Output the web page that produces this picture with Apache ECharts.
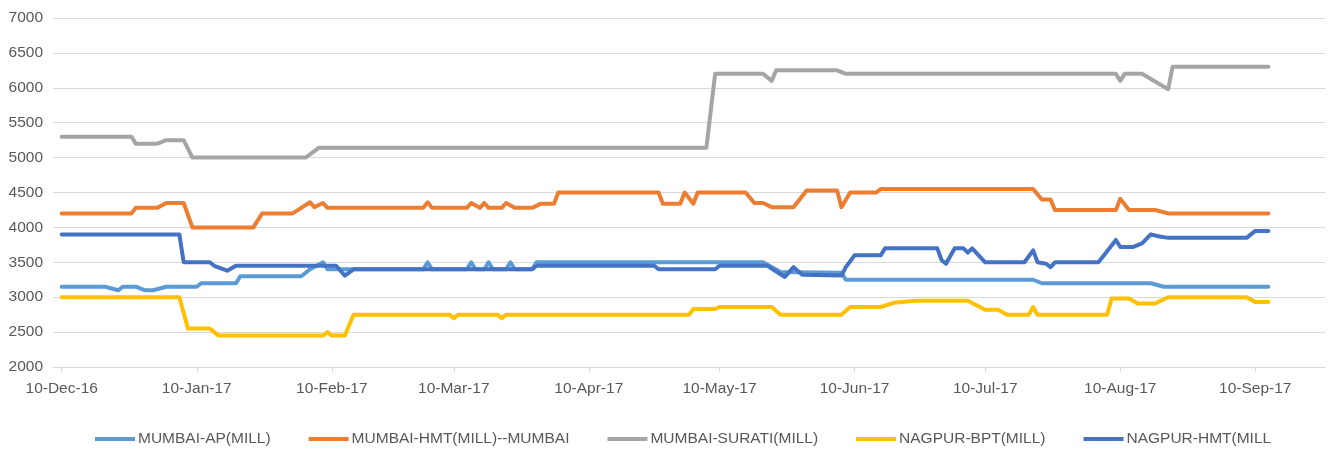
<!DOCTYPE html>
<html>
<head>
	<meta charset="utf-8">
	<title>Mill prices</title>
	<script src="https://cdn.jsdelivr.net/npm/echarts@6.0.0/dist/echarts.min.js"></script>
	<style>
		body { margin: 0; background: #fff; }
		#main { width: 1331px; height: 456px; }
	</style>
</head>
<body>
<div id="main"></div>
<script type="text/javascript">
// 数据
var tickDates = ['2016-12-10', '2017-01-10', '2017-02-10', '2017-03-10', '2017-04-10',
	'2017-05-10', '2017-06-10', '2017-07-10', '2017-08-10', '2017-09-10'];
var monthNames = ['Jan', 'Feb', 'Mar', 'Apr', 'May', 'Jun', 'Jul', 'Aug', 'Sep', 'Oct', 'Nov', 'Dec'];

// MUMBAI-AP(MILL)
var apDates = ['2016-12-10', '2016-12-20', '2016-12-23', '2016-12-24', '2016-12-27', '2016-12-29', '2016-12-31',
	'2017-01-03', '2017-01-10', '2017-01-11', '2017-01-19', '2017-01-20', '2017-02-03', '2017-02-05',
	'2017-02-08', '2017-02-09', '2017-03-03', '2017-03-04', '2017-03-05', '2017-03-13', '2017-03-14',
	'2017-03-15', '2017-03-17', '2017-03-18', '2017-03-19', '2017-03-22', '2017-03-23', '2017-03-24',
	'2017-03-28', '2017-03-29', '2017-05-20', '2017-05-24', '2017-06-07', '2017-06-08', '2017-07-21',
	'2017-07-23', '2017-08-17', '2017-08-20', '2017-09-13'];
var apValues = [3150, 3150, 3100, 3150, 3150, 3100, 3100,
	3150, 3150, 3200, 3200, 3300, 3300, 3400,
	3500, 3400, 3400, 3500, 3400, 3400, 3500,
	3400, 3400, 3500, 3400, 3400, 3500, 3400,
	3400, 3500, 3500, 3360, 3350, 3250, 3250,
	3200, 3200, 3150, 3150];

// MUMBAI-HMT(MILL)--MUMBAI
var hmtMumDates = ['2016-12-10', '2016-12-26', '2016-12-27', '2017-01-01', '2017-01-03', '2017-01-07', '2017-01-09',
	'2017-01-23', '2017-01-25', '2017-02-01', '2017-02-03', '2017-02-05', '2017-02-06', '2017-02-08',
	'2017-02-09', '2017-03-03', '2017-03-04', '2017-03-05', '2017-03-13', '2017-03-14', '2017-03-16',
	'2017-03-17', '2017-03-18', '2017-03-21', '2017-03-22', '2017-03-24', '2017-03-28', '2017-03-30',
	'2017-04-02', '2017-04-03', '2017-04-26', '2017-04-27', '2017-05-01', '2017-05-02', '2017-05-04',
	'2017-05-05', '2017-05-16', '2017-05-18', '2017-05-20', '2017-05-22', '2017-05-27', '2017-05-30',
	'2017-06-06', '2017-06-07', '2017-06-09', '2017-06-15', '2017-06-16', '2017-07-21', '2017-07-23',
	'2017-07-25', '2017-07-26', '2017-08-09', '2017-08-10', '2017-08-12', '2017-08-18', '2017-08-21',
	'2017-09-13'];
var hmtMumValues = [4200, 4200, 4280, 4280, 4350, 4350, 4000,
	4000, 4200, 4200, 4280, 4360, 4290, 4350,
	4280, 4280, 4360, 4280, 4280, 4350, 4280,
	4350, 4280, 4280, 4350, 4280, 4280, 4340,
	4340, 4500, 4500, 4340, 4340, 4500, 4340,
	4500, 4500, 4350, 4350, 4290, 4290, 4530,
	4530, 4290, 4500, 4500, 4550, 4550, 4400,
	4400, 4250, 4250, 4410, 4250, 4250, 4200,
	4200];

// MUMBAI-SURATI(MILL)
var suratiDates = ['2016-12-10', '2016-12-26', '2016-12-27', '2017-01-01', '2017-01-03', '2017-01-07', '2017-01-09',
	'2017-02-04', '2017-02-07', '2017-05-07', '2017-05-09', '2017-05-20', '2017-05-22', '2017-05-23',
	'2017-06-06', '2017-06-08', '2017-08-09', '2017-08-10', '2017-08-11', '2017-08-15', '2017-08-21',
	'2017-08-22', '2017-09-13'];
var suratiValues = [5300, 5300, 5200, 5200, 5250, 5250, 5000,
	5000, 5140, 5140, 6200, 6200, 6100, 6250,
	6250, 6200, 6200, 6100, 6200, 6200, 5980,
	6300, 6300];

// NAGPUR-BPT(MILL)
var bptDates = ['2016-12-10', '2017-01-06', '2017-01-08', '2017-01-13', '2017-01-15', '2017-02-08', '2017-02-09',
	'2017-02-10', '2017-02-13', '2017-02-15', '2017-03-09', '2017-03-10', '2017-03-11', '2017-03-20',
	'2017-03-21', '2017-03-22', '2017-05-03', '2017-05-04', '2017-05-09', '2017-05-10', '2017-05-22',
	'2017-05-24', '2017-06-07', '2017-06-09', '2017-06-16', '2017-06-19', '2017-06-24', '2017-07-06',
	'2017-07-10', '2017-07-13', '2017-07-15', '2017-07-20', '2017-07-21', '2017-07-22', '2017-08-07',
	'2017-08-08', '2017-08-12', '2017-08-14', '2017-08-18', '2017-08-21', '2017-09-08', '2017-09-10',
	'2017-09-13'];
var bptValues = [3000, 3000, 2550, 2550, 2450, 2450, 2500,
	2450, 2450, 2750, 2750, 2700, 2750, 2750,
	2700, 2750, 2750, 2830, 2830, 2860, 2860,
	2750, 2750, 2860, 2860, 2920, 2950, 2950,
	2820, 2820, 2750, 2750, 2860, 2750, 2750,
	2980, 2980, 2910, 2910, 3000, 3000, 2930,
	2930];

// NAGPUR-HMT(MILL
var hmtNagDates = ['2016-12-10', '2017-01-06', '2017-01-07', '2017-01-13', '2017-01-14', '2017-01-17', '2017-01-19',
	'2017-02-11', '2017-02-13', '2017-02-15', '2017-03-28', '2017-03-29', '2017-04-25', '2017-04-26',
	'2017-05-09', '2017-05-10', '2017-05-21', '2017-05-25', '2017-05-27', '2017-05-29', '2017-06-07',
	'2017-06-08', '2017-06-10', '2017-06-16', '2017-06-17', '2017-06-29', '2017-06-30', '2017-07-01',
	'2017-07-03', '2017-07-05', '2017-07-06', '2017-07-07', '2017-07-10', '2017-07-19', '2017-07-21',
	'2017-07-22', '2017-07-24', '2017-07-25', '2017-07-26', '2017-08-05', '2017-08-09', '2017-08-10',
	'2017-08-13', '2017-08-15', '2017-08-17', '2017-08-19', '2017-08-21', '2017-09-08', '2017-09-10',
	'2017-09-13'];
var hmtNagValues = [3900, 3900, 3500, 3500, 3450, 3380, 3450,
	3450, 3310, 3400, 3400, 3450, 3450, 3400,
	3400, 3450, 3450, 3290, 3430, 3320, 3310,
	3430, 3600, 3600, 3700, 3700, 3530, 3480,
	3700, 3700, 3640, 3700, 3500, 3500, 3670,
	3500, 3480, 3430, 3500, 3500, 3820, 3720,
	3720, 3770, 3900, 3870, 3850, 3850, 3950,
	3950];

function ts(s) {
	var p = s.split('-');
	return new Date(+p[0], +p[1] - 1, +p[2]).getTime();
}
function pairs(dates, values) {
	var out = [];
	for (var i = 0; i < dates.length; i++) {
		out.push([ts(dates[i]), values[i]]);
	}
	return out;
}
function mkSeries(name, color, dates, values) {
	return {
		name: name,
		type: 'line',
		showSymbol: false,
		data: pairs(dates, values),
		lineStyle: { color: color, width: 4, cap: 'round', join: 'round' },
		itemStyle: { color: color }
	};
}

var myChart = echarts.init(document.getElementById('main'));
var axisFont = { color: '#595959', fontSize: 15.5, fontFamily: 'Liberation Sans, Arial, sans-serif' };

var option = {
	animation: false,
	backgroundColor: '#fff',
	grid: { left: 53, right: 6, top: 18, bottom: 89, outerBoundsMode: 'none' },
	legend: {
		left: 90,
		top: 426,
		icon: 'rect',
		itemWidth: 40,
		itemHeight: 4,
		itemGap: 38,
		textStyle: { color: '#595959', fontSize: 15.5, padding: [0, 0, 0, -2], fontFamily: 'Liberation Sans, Arial, sans-serif' }
	},
	xAxis: {
		type: 'value',
		min: ts('2016-12-08'),
		max: ts('2017-09-26'),
		axisLine: { lineStyle: { color: '#d9d9d9', width: 1 } },
		axisTick: { customValues: tickDates.map(ts), length: 5, lineStyle: { color: '#d9d9d9' } },
		axisLabel: Object.assign({
			customValues: tickDates.map(ts),
			margin: 14,
			formatter: function (v) {
				var d = new Date(v);
				return d.getDate() + '-' + monthNames[d.getMonth()] + '-' + String(d.getFullYear()).slice(2);
			}
		}, axisFont),
		splitLine: { show: false }
	},
	yAxis: {
		type: 'value',
		min: 2000,
		max: 7000,
		interval: 500,
		axisLine: { show: false },
		axisTick: { show: false },
		axisLabel: Object.assign({ margin: 10, formatter: function (v) { return String(v); } }, axisFont),
		splitLine: { lineStyle: { color: '#d9d9d9', width: 1 } }
	},
	series: [
		mkSeries('MUMBAI-AP(MILL)', '#5B9BD5', apDates, apValues),
		mkSeries('MUMBAI-HMT(MILL)--MUMBAI', '#ED7D31', hmtMumDates, hmtMumValues),
		mkSeries('MUMBAI-SURATI(MILL)', '#A5A5A5', suratiDates, suratiValues),
		mkSeries('NAGPUR-BPT(MILL)', '#FFC000', bptDates, bptValues),
		mkSeries('NAGPUR-HMT(MILL', '#4472C4', hmtNagDates, hmtNagValues)
	]
};

myChart.setOption(option);
</script>
</body>
</html>
